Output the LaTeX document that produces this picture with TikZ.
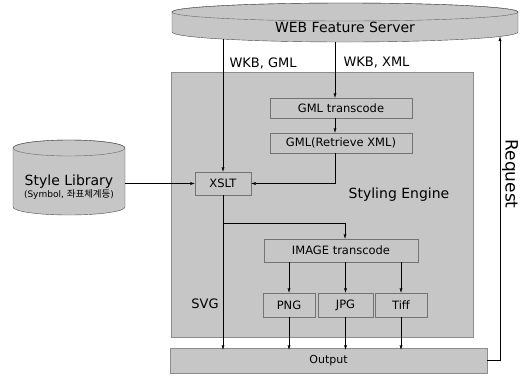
\documentclass[tikz,border=0pt]{standalone}
\usepackage{fontspec}
\setmainfont{DejaVu Sans}
\newfontfamily\hangul{Noto Sans CJK KR}
\usetikzlibrary{arrows.meta,positioning}

\begin{document}
\begin{tikzpicture}[
				x=1pt, y=-1pt,
				>={Latex[length=4.5pt,width=3pt]},
				% grey shading used by every block
				shade/.style={fill=gray!45},
				stage/.style={shade, draw=black!55, thin, inner sep=0pt, minimum height=20pt, font=\fontsize{11.5}{13}\selectfont},
				lbl/.style={font=\fontsize{13}{15}\selectfont},
				big/.style={font=\fontsize{14}{16}\selectfont}
				]
				\useasboundingbox (0,0) rectangle (530,376);
				\pgfmathsetmacro{\ServerRadius}{173}
				\pgfmathsetmacro{\LibRadius}{56}
				% styling engine area
				\fill[shade] (171,72) rectangle (473,337);
				\draw[black!45, thin] (171,72) rectangle (473,337);
				% web feature server, a flat drum
				\filldraw[shade, draw=black!70] (172,12) -- (172,32) arc[start angle=180, end angle=0, x radius=\ServerRadius, y radius=10] -- (518,12) arc[start angle=0, end angle=-180, x radius=\ServerRadius, y radius=9] -- cycle;
				\draw[black!60] (345,12) ellipse [x radius=\ServerRadius, y radius=9];
				\node[big] (srv) at (345,27) {WEB Feature Server};
				% style library, a cylinder
				\filldraw[shade, draw=black!70] (13,148) -- (13,207) arc[start angle=180, end angle=0, x radius=\LibRadius, y radius=8] -- (125,148) arc[start angle=0, end angle=-180, x radius=\LibRadius, y radius=8] -- cycle;
				\draw[black!60] (69,148) ellipse [x radius=\LibRadius, y radius=8];
				\node[big] (lib) at (69,182) {Style Library};
				\node[font=\fontsize{9}{10}\selectfont, inner sep=0pt] (libsub) at (69,195) {(Symbol, {\hangul\fontsize{9.5}{10}\selectfont 좌표체계등})};
				% blocks
				\node[stage, minimum width=56pt, minimum height=23pt] (xslt) at (223,183.5) {XSLT};
				\node[stage, minimum width=142pt] (gmlt) at (341,108) {GML transcode};
				\node[stage, minimum width=142pt] (gmlr) at (341,143) {GML(Retrieve XML)};
				\node[stage, minimum width=154pt, minimum height=23pt] (imgt) at (341,250.5) {IMAGE transcode};
				\node[stage, minimum width=52pt, minimum height=24pt] (png) at (289,305) {PNG};
				\node[stage, minimum width=55pt, minimum height=24pt] (jpg) at (345.5,305) {JPG};
				\node[stage, minimum width=52pt, minimum height=24pt] (tif) at (401,305) {Tiff};
				\node[shade, draw=black!45, thin, minimum width=317pt, minimum height=25pt, font=\fontsize{11}{13}\selectfont] (out) at (328.5,360.5) {Output};
				% labels
				\node[lbl, anchor=west] (lblgml) at (226,63) {WKB, GML};
				\node[lbl, anchor=west] (lblxml) at (340,63) {WKB, XML};
				\node[lbl] (lblsvg) at (205,304) {SVG};
				\node[big] (lbleng) at (399,195) {Styling Engine};
				\node[font=\fontsize{17}{19}\selectfont, rotate=-90] (lblreq) at (510,174) {Request};
				% connector ends
				\coordinate (wkbA) at (223,39);
				\coordinate (wkbB) at (335,42);
				\coordinate (req) at (500,36.5);
				\coordinate (libR) at (125,183.5);
				\coordinate (split) at (223,223);
				% flows
				\draw[->] (wkbA) -- (xslt.north);
				\draw[->] (wkbB) -- (wkbB |- gmlt.north);
				\draw[->] (wkbB |- gmlt.south) -- (wkbB |- gmlr.north);
				\draw[->] (wkbB |- gmlr.south) -- (wkbB |- xslt.east) -- (xslt.east);
				\draw[->] (libR) -- (xslt.west);
				\draw[->] (xslt.south) -- ([yshift=-2pt]xslt.south |- out.north);
				\draw[->] (split) -| ([xshift=4pt]imgt.north);
				\foreach \fmt in {png,jpg,tif}{
					\draw[->] (\fmt.north |- imgt.south) -- (\fmt.north);
					\draw[->] (\fmt.south) -- ([yshift=-2pt]\fmt.south |- out.north);
				}
				\draw[->] (out.east) -- (out.east -| req) -- (req);
			\end{tikzpicture}
\end{document}
